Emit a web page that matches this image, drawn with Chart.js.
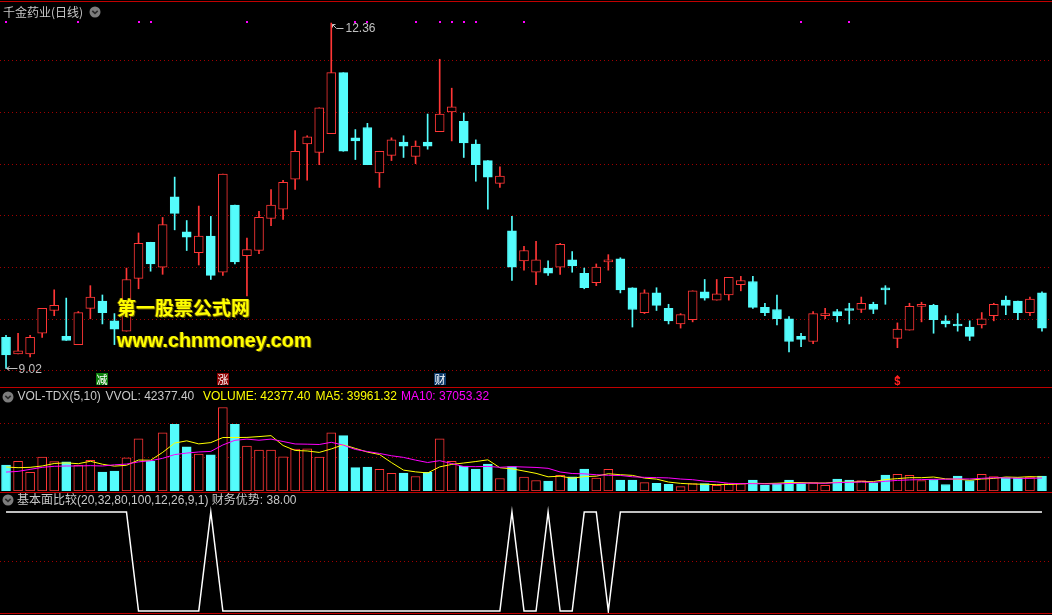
<!DOCTYPE html>
<html><head><meta charset="utf-8">
<script src="https://cdn.jsdelivr.net/npm/chart.js@4.4.0/dist/chart.umd.min.js"></script>
<style>
html,body{margin:0;padding:0;background:#000;width:1052px;height:615px;overflow:hidden;}
#wrap{position:relative;width:1052px;height:615px;background:#000;}
canvas{position:absolute;left:0;}
.sep{position:absolute;left:0;width:1052px;height:1px;background:#c00000;}
.txt{position:absolute;white-space:nowrap;font-family:"Liberation Sans","Noto Sans CJK SC",sans-serif;font-size:12px;line-height:12px;}
.wm1{position:absolute;left:117px;top:297px;font-family:"Noto Sans CJK SC",sans-serif;font-weight:bold;font-size:19px;line-height:19px;color:#ffff00;text-shadow:1px 1px 0 #6b5b00,-1px 0 0 #5a4a00;white-space:nowrap;}
.wm2{position:absolute;left:117px;top:330px;font-family:"Liberation Sans",sans-serif;font-weight:bold;font-size:19.8px;line-height:20px;color:#ffff00;text-shadow:1px 1px 0 #6b5b00,-1px 0 0 #5a4a00;white-space:nowrap;}
</style></head>
<body><div id="wrap">
<canvas id="pc" width="1052" height="384" style="top:3px"></canvas>
<canvas id="vc" width="1052" height="102" style="top:389px"></canvas>
<canvas id="fc" width="1052" height="120" style="top:493px"></canvas>

<div class="sep" style="top:1px"></div>
<div class="sep" style="top:387px"></div>
<div class="sep" style="top:492px"></div>
<div class="sep" style="top:613px"></div>

<div class="txt" style="left:3px;top:5.5px;color:#c8c8c8;font-family:'Noto Sans CJK SC',sans-serif;">千金药业(日线)</div>
<svg style="position:absolute;left:89px;top:6px" width="12" height="12"><circle cx="6" cy="6" r="5.5" fill="#7d7d7d"/><path d="M3.3 4.8 L6 7.4 L8.7 4.8" stroke="#2a2a2a" stroke-width="1.6" fill="none"/></svg>

<div class="wm1">第一股票公式网</div>
<div class="wm2">www.chnmoney.com</div>

<svg style="position:absolute;left:2px;top:390.5px" width="12" height="12"><circle cx="6" cy="6" r="5.5" fill="#7d7d7d"/><path d="M3.3 4.8 L6 7.4 L8.7 4.8" stroke="#2a2a2a" stroke-width="1.6" fill="none"/></svg>
<div class="txt" style="left:17.5px;top:390px;color:#c8c8c8">VOL-TDX(5,10)</div>
<div class="txt" style="left:105.5px;top:390px;color:#c8c8c8">VVOL: <span id="vvol"></span></div>
<div class="txt" style="left:203px;top:390px;color:#ffff00">VOLUME: <span id="vvol2"></span></div>
<div class="txt" style="left:315.5px;top:390px;color:#ffff00">MA5: <span id="ma5t"></span></div>
<div class="txt" style="left:401px;top:390px;color:#ff00ff">MA10: <span id="ma10t"></span></div>

<svg style="position:absolute;left:2px;top:494px" width="12" height="12"><circle cx="6" cy="6" r="5.5" fill="#7d7d7d"/><path d="M3.3 4.8 L6 7.4 L8.7 4.8" stroke="#2a2a2a" stroke-width="1.6" fill="none"/></svg>
<div class="txt" style="left:17px;top:493.8px;color:#c8c8c8">基本面比较(20,32,80,100,12,26,9,1) 财务优势: <span id="fint"></span></div>
</div>
<script>
// ---- data ----
const opens  = [9.32,9.16,9.16,9.36,9.58,9.33,9.25,9.60,9.67,9.48,
                9.38,9.89,10.24,10.00,10.68,10.34,10.14,10.30,9.95,10.60,
                10.11,10.16,10.47,10.56,10.85,11.19,11.11,11.29,11.88,11.25,
                11.35,10.91,11.08,11.21,11.07,11.21,11.31,11.50,11.41,11.19,
                11.03,10.81,10.35,10.06,9.95,9.99,10.00,10.07,9.94,9.85,
                10.05,10.08,9.80,9.56,9.75,9.60,9.45,9.49,9.76,9.68,
                9.73,9.83,9.86,9.61,9.59,9.50,9.33,9.28,9.53,9.57,
                9.59,9.59,9.64,9.79,9.31,9.39,9.62,9.63,9.48,9.44,
                9.42,9.44,9.53,9.68,9.67,9.56,9.75];
const highs  = [9.34,9.36,9.34,9.60,9.78,9.70,9.57,9.82,9.73,9.55,
                9.99,10.33,10.24,10.48,10.87,10.45,10.59,10.49,10.90,10.60,
                10.28,10.54,10.75,10.84,11.32,11.27,11.54,12.36,11.88,11.33,
                11.39,11.12,11.25,11.27,11.22,11.48,12.01,11.73,11.49,11.23,
                11.03,10.97,10.49,10.20,10.25,10.06,10.23,10.15,9.99,10.03,
                10.12,10.09,9.80,9.78,9.80,9.64,9.55,9.77,9.88,9.88,
                9.90,9.91,9.91,9.65,9.73,9.52,9.36,9.57,9.60,9.59,
                9.65,9.71,9.66,9.82,9.46,9.65,9.66,9.64,9.53,9.55,
                9.48,9.56,9.65,9.72,9.67,9.71,9.76];
const lows   = [9.02,9.16,9.13,9.32,9.53,9.29,9.25,9.50,9.45,9.25,
                9.38,9.79,9.96,9.93,10.36,10.16,10.02,9.88,9.92,10.03,
                9.72,10.13,10.40,10.46,10.75,10.84,10.99,11.29,11.12,11.04,
                10.99,10.77,11.03,11.06,11.00,11.14,11.31,11.22,11.06,10.83,
                10.56,10.77,9.87,9.97,9.83,9.92,9.93,9.95,9.79,9.82,
                9.97,9.75,9.42,9.55,9.58,9.45,9.41,9.47,9.68,9.68,
                9.68,9.77,9.60,9.53,9.44,9.18,9.23,9.26,9.50,9.47,
                9.45,9.56,9.55,9.64,9.22,9.39,9.47,9.36,9.42,9.38,
                9.29,9.41,9.48,9.54,9.49,9.53,9.38];
const closes = [9.15,9.19,9.32,9.60,9.63,9.29,9.56,9.71,9.56,9.40,
                9.88,10.23,10.03,10.41,10.52,10.29,10.30,9.92,10.90,10.05,
                10.17,10.48,10.60,10.82,11.12,11.26,11.54,11.88,11.12,11.22,
                10.99,11.12,11.23,11.17,11.17,11.17,11.48,11.55,11.20,10.99,
                10.87,10.88,10.00,10.16,10.07,9.94,10.22,10.01,9.80,10.00,
                10.05,9.78,9.59,9.75,9.63,9.48,9.54,9.77,9.70,9.74,
                9.90,9.87,9.61,9.56,9.50,9.28,9.30,9.55,9.55,9.53,
                9.58,9.65,9.59,9.78,9.40,9.62,9.62,9.49,9.45,9.43,
                9.33,9.50,9.64,9.63,9.56,9.69,9.41];
const volumes = [74150,84740,52970,96300,83780,82820,73190,87630,53930,56820,
                 94370,148300,84740,165640,189710,126150,104970,103040,237860,189710,
                 128080,116520,116520,97260,119410,120380,96300,165640,157930,66450,
                 68370,61630,50080,51040,41410,52970,148300,84740,71260,62600,
                 77040,35630,69340,39480,29850,27930,44300,40450,62600,36590,
                 61630,30820,30820,24080,22150,19260,12520,21190,21190,16370,
                 21190,21190,30820,16370,21190,30820,21190,24080,16370,33700,
                 30820,29850,23110,45260,47190,44300,29850,32740,18576.60,42370,
                 29850,47190,41410,38500,37800,39719.20,42377.40];
// moving-average values before enough bars exist on screen
const ma5Lead  = [68370,66450,67400,71260];
const ma10Lead = [53930,55850,61630,67400,70300,71260,71260,72230,71260];
const finance = [38,38,38,38,38,38,38,38,38,38,38,
                 0,0,0,0,0,0,
                 38,
                 0,0,0,0,0,0,0,0,0,0,0,0,0,0,0,0,0,0,0,0,0,0,0,0,
                 38,0,0,38,0,0,38,38,0,
                 38,38,38,38,38,38,38,38,38,38,38,38,38,38,38,38,38,38,
                 38,38,38,38,38,38,38,38,38,38,38,38,38,38,38,38,38,38];
const categories = opens.map((_, i) => 'D' + (i + 1));
const priceGrid = [9.0, 9.5, 10.0, 10.5, 11.0, 11.5, 12.0];
const volGrid = [96300, 192600];
const finGrid = [19];
const signalIdx = [0, 6, 11, 12, 20, 29, 30, 34, 36, 37, 38, 39, 43, 66, 70];
const eventIdx = [8, 18, 36, 74];
const eventText = ['减', '涨', '财', '$'];

// ---- derived ----
const RED = '#ff3636', CYAN = '#54fcfc';
const up = closes.map((c, i) => c >= opens[i]);
const candleColor = up.map(u => u ? RED : CYAN);
function rolling(arr, n, lead) {
  return arr.map((v, i) => i < n - 1 ? lead[i] : arr.slice(i - n + 1, i + 1).reduce((a, b) => a + b, 0) / n);
}
const ma5 = rolling(volumes, 5, ma5Lead);
const ma10 = rolling(volumes, 10, ma10Lead);
const last = volumes.length - 1;
document.getElementById('vvol').textContent = volumes[last].toFixed(2);
document.getElementById('vvol2').textContent = volumes[last].toFixed(2);
document.getElementById('ma5t').textContent = ma5[last].toFixed(2);
document.getElementById('ma10t').textContent = ma10[last].toFixed(2);
document.getElementById('fint').textContent = finance[last].toFixed(2);

function dotted(chart, values) {
  const { ctx, scales: { y } } = chart;
  ctx.save();
  ctx.strokeStyle = '#a00000';
  ctx.lineWidth = 1;
  ctx.setLineDash([1, 3]);
  values.forEach(v => {
    const py = Math.round(y.getPixelForValue(v)) + 0.5;
    ctx.beginPath(); ctx.moveTo(0, py); ctx.lineTo(chart.width, py); ctx.stroke();
  });
  ctx.restore();
}

const base = (ymin, ymax) => ({
  responsive: false, animation: false, devicePixelRatio: 1, events: [],
  layout: { padding: { left: 0, right: 4, top: 0, bottom: 0 } },
  plugins: { legend: { display: false }, tooltip: { enabled: false } },
  scales: {
    x: { type: 'category', offset: true, display: false },
    y: { display: false, min: ymin, max: ymax }
  }
});

// ---- price panel ----
const pricePlugin = {
  id: 'pricePlugin',
  beforeDatasetsDraw(chart) { dotted(chart, priceGrid); },
  afterDatasetsDraw(chart) {
    const { ctx, scales: { x, y } } = chart;
    ctx.save();
    // signal dots
    ctx.fillStyle = '#ff00ff';
    signalIdx.forEach(i => {
      const px = Math.round(x.getPixelForValue(i));
      ctx.fillRect(px - 1, 18, 2, 2);
    });
    // high / low labels
    ctx.strokeStyle = '#c0c0c0'; ctx.fillStyle = '#c0c0c0'; ctx.lineWidth = 1;
    ctx.font = '12px "Liberation Sans", sans-serif';
    ctx.textBaseline = 'middle';
    const hi = Math.max(...highs), hiI = highs.indexOf(hi);
    const lo = Math.min(...lows), loI = lows.indexOf(lo);
    const hx = Math.round(x.getPixelForValue(hiI)) + 0.5, hy = Math.round(y.getPixelForValue(hi)) + 0.5;
    ctx.beginPath();
    ctx.moveTo(hx + 1, hy + 1); ctx.lineTo(hx + 5, hy + 5); ctx.lineTo(hx + 12, hy + 5);
    ctx.moveTo(hx + 1, hy + 1); ctx.lineTo(hx + 1, hy + 4);
    ctx.moveTo(hx + 1, hy + 1); ctx.lineTo(hx + 4, hy + 1);
    ctx.stroke();
    ctx.fillText(hi.toFixed(2), hx + 14, hy + 5);
    const lx = Math.round(x.getPixelForValue(loI)) + 0.5, ly = Math.round(y.getPixelForValue(lo)) + 0.5;
    ctx.beginPath();
    ctx.moveTo(lx, ly); ctx.lineTo(lx + 11, ly);
    ctx.moveTo(lx, ly); ctx.lineTo(lx + 3, ly - 2);
    ctx.moveTo(lx, ly); ctx.lineTo(lx + 3, ly + 2);
    ctx.stroke();
    ctx.fillText(lo.toFixed(2), lx + 12, ly + 1.5);
    // event labels
    const bgs = { '减': '#0a800a', '涨': '#8c0000', '财': '#0e3c6c' };
    eventIdx.forEach((i, k) => {
      const px = x.getPixelForValue(i);
      const t = eventText[k];
      if (t === '$') {
        ctx.fillStyle = '#ff2020';
        ctx.beginPath(); ctx.moveTo(px, 372); ctx.lineTo(px - 3, 375); ctx.lineTo(px + 3, 375); ctx.closePath(); ctx.fill();
        ctx.font = 'bold 11px "Liberation Sans", sans-serif';
        ctx.textAlign = 'center';
        ctx.fillText('$', px, 379);
      } else {
        ctx.fillStyle = bgs[t];
        ctx.fillRect(Math.round(px - 6), 370, 12, 12);
        ctx.fillStyle = '#ffffff';
        ctx.font = '11px "Noto Sans CJK SC", sans-serif';
        ctx.textAlign = 'center';
        ctx.fillText(t, Math.round(px), 376.5);
      }
    });
    ctx.restore();
  }
};

new Chart(document.getElementById('pc'), {
  type: 'bar',
  data: {
    labels: categories,
    datasets: [
      { label: 'wick', data: lows.map((l, i) => [l, highs[i]]), backgroundColor: candleColor,
        borderWidth: 0, barThickness: 1, grouped: false, order: 2 },
      { label: 'body', data: opens.map((o, i) => [o, closes[i]]),
        backgroundColor: up.map(u => u ? '#000000' : CYAN), borderColor: candleColor,
        borderWidth: 1, borderSkipped: false, barThickness: 9, grouped: false, minBarLength: 2, order: 1 }
    ]
  },
  options: base(8.840, 12.554),
  plugins: [pricePlugin]
});

// ---- volume panel ----
new Chart(document.getElementById('vc'), {
  type: 'bar',
  data: {
    labels: categories,
    datasets: [
      { type: 'line', label: 'MA5', data: ma5, borderColor: '#ffff00', borderWidth: 1, pointRadius: 0, tension: 0, order: 1 },
      { type: 'line', label: 'MA10', data: ma10, borderColor: '#ff00ff', borderWidth: 1, pointRadius: 0, tension: 0, order: 0 },
      { type: 'bar', label: 'VOLUME', data: volumes,
        backgroundColor: up.map(u => u ? '#000000' : CYAN), borderColor: candleColor,
        borderWidth: 1, borderSkipped: false, barThickness: 9, grouped: false, order: 2 }
    ]
  },
  options: base(0, 290600),
  plugins: [{ id: 'vg', beforeDatasetsDraw(chart) { dotted(chart, volGrid); } }]
});

// ---- fundamentals panel ----
new Chart(document.getElementById('fc'), {
  type: 'line',
  data: {
    labels: categories,
    datasets: [
      { label: '财务优势', data: finance, borderColor: '#ffffff', borderWidth: 1.5, pointRadius: 0, tension: 0 }
    ]
  },
  options: base(-0.77, 45.29),
  plugins: [{ id: 'fg', beforeDatasetsDraw(chart) { dotted(chart, finGrid); } }]
});
</script>
</body></html>
